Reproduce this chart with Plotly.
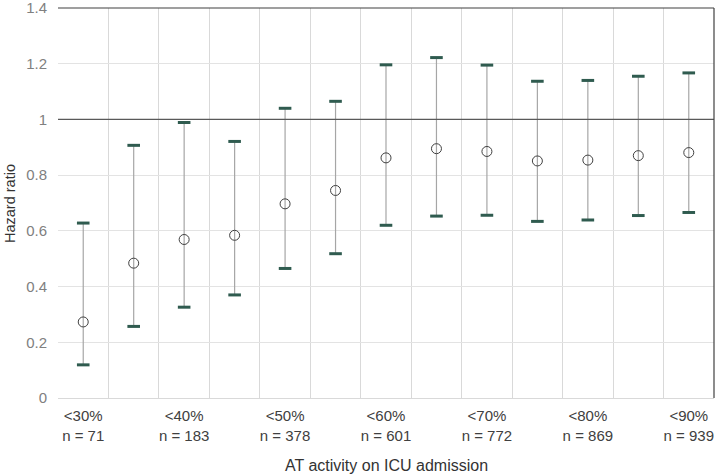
import plotly.graph_objects as go

# hazard ratios with 95% CI, one per AT activity threshold
pos = list(range(1, 14))
hr = [0.273, 0.484, 0.569, 0.584, 0.697, 0.745, 0.862, 0.895, 0.885, 0.851, 0.854, 0.870, 0.881]
lower = [0.119, 0.257, 0.326, 0.370, 0.465, 0.518, 0.620, 0.653, 0.656, 0.634, 0.639, 0.655, 0.666]
upper = [0.628, 0.907, 0.989, 0.921, 1.040, 1.065, 1.196, 1.222, 1.195, 1.137, 1.140, 1.155, 1.167]

label_pos = [1, 3, 5, 7, 9, 11, 13]
thresholds = ['<30%', '<40%', '<50%', '<60%', '<70%', '<80%', '<90%']
n_patients = [71, 183, 378, 601, 772, 869, 939]
tick_text = [f"{t}<br>n = {n}" for t, n in zip(thresholds, n_patients)]

font_family = "Liberation Sans, Arial, sans-serif"

fig = go.Figure()

# CI whiskers
fig.add_trace(go.Scatter(
    x=pos, y=hr, mode='markers',
    marker=dict(size=0.1, color='rgba(0,0,0,0)'),
    error_y=dict(type='data', symmetric=False,
                 array=[u - h for u, h in zip(upper, hr)],
                 arrayminus=[h - l for h, l in zip(hr, lower)],
                 color='#a6a6a6', thickness=1.2, width=0),
    showlegend=False, hoverinfo='skip'
))

# caps
for vals in (upper, lower):
    fig.add_trace(go.Scatter(
        x=pos, y=vals, mode='markers',
        marker=dict(symbol='line-ew', size=9, line=dict(width=3, color='#2f5b4f')),
        showlegend=False
    ))

# point estimates
fig.add_trace(go.Scatter(
    x=pos, y=hr, mode='markers',
    marker=dict(symbol='circle-open', size=10, line=dict(width=1, color='#404040'), color='#404040'),
    showlegend=False
))

# reference line at HR = 1
fig.add_shape(type='line', xref='paper', x0=0, x1=1, y0=1, y1=1,
              line=dict(color='#595959', width=1.2))

fig.update_layout(
    width=718, height=474,
    margin=dict(l=58, r=4, t=8, b=76),
    plot_bgcolor='white',
    paper_bgcolor='white',
    font=dict(family=font_family, size=14, color='#404040'),
    xaxis=dict(
        range=[0.5, 13.5], automargin=False,
        tickmode='array', tickvals=label_pos, ticktext=tick_text,
        showgrid=False, zeroline=False,
        showline=True, linecolor='#d9d9d9', linewidth=1, mirror=False,
        ticks='', ticklabelstandoff=4, tickfont=dict(size=15, color='#404040'),
        minor=dict(tickmode='array', tickvals=[p + 0.5 for p in range(0, 14)],
                   showgrid=True, gridcolor='#d9d9d9', gridwidth=1, ticks=''),
    ),
    yaxis=dict(
        range=[0, 1.4], automargin=False,
        tickvals=[0, 0.2, 0.4, 0.6, 0.8, 1, 1.2, 1.4],
        ticktext=['0', '0.2', '0.4', '0.6', '0.8', '1', '1.2', '1.4'],
        showgrid=True, gridcolor='#e3e3e3', gridwidth=1, zeroline=False,
        showline=False, ticks='', ticklabelstandoff=10, ticklabeloverflow='allow',
        tickfont=dict(size=15, color='#808080'),
    ),
    annotations=[
        dict(text='AT activity on ICU admission', xref='paper', yref='paper',
             x=0.5, y=-0.174, xanchor='center', yanchor='middle', showarrow=False,
             font=dict(size=16, color='#333333')),
        dict(text='Hazard ratio', xref='paper', yref='paper', textangle=-90,
             x=-0.0732, y=0.5, xanchor='center', yanchor='middle', showarrow=False,
             font=dict(size=14.5, color='#333333')),
    ],
)

# dark top and right frame
fig.add_shape(type='line', xref='paper', yref='paper', x0=0, x1=1, y0=1, y1=1,
              line=dict(color='#404040', width=1.2))
fig.add_shape(type='line', xref='paper', yref='paper', x0=1, x1=1, y0=0, y1=1,
              line=dict(color='#404040', width=1.2))

fig.write_html("out.html", config={'displayModeBar': False},
               post_script="document.body.style.margin='0';")
